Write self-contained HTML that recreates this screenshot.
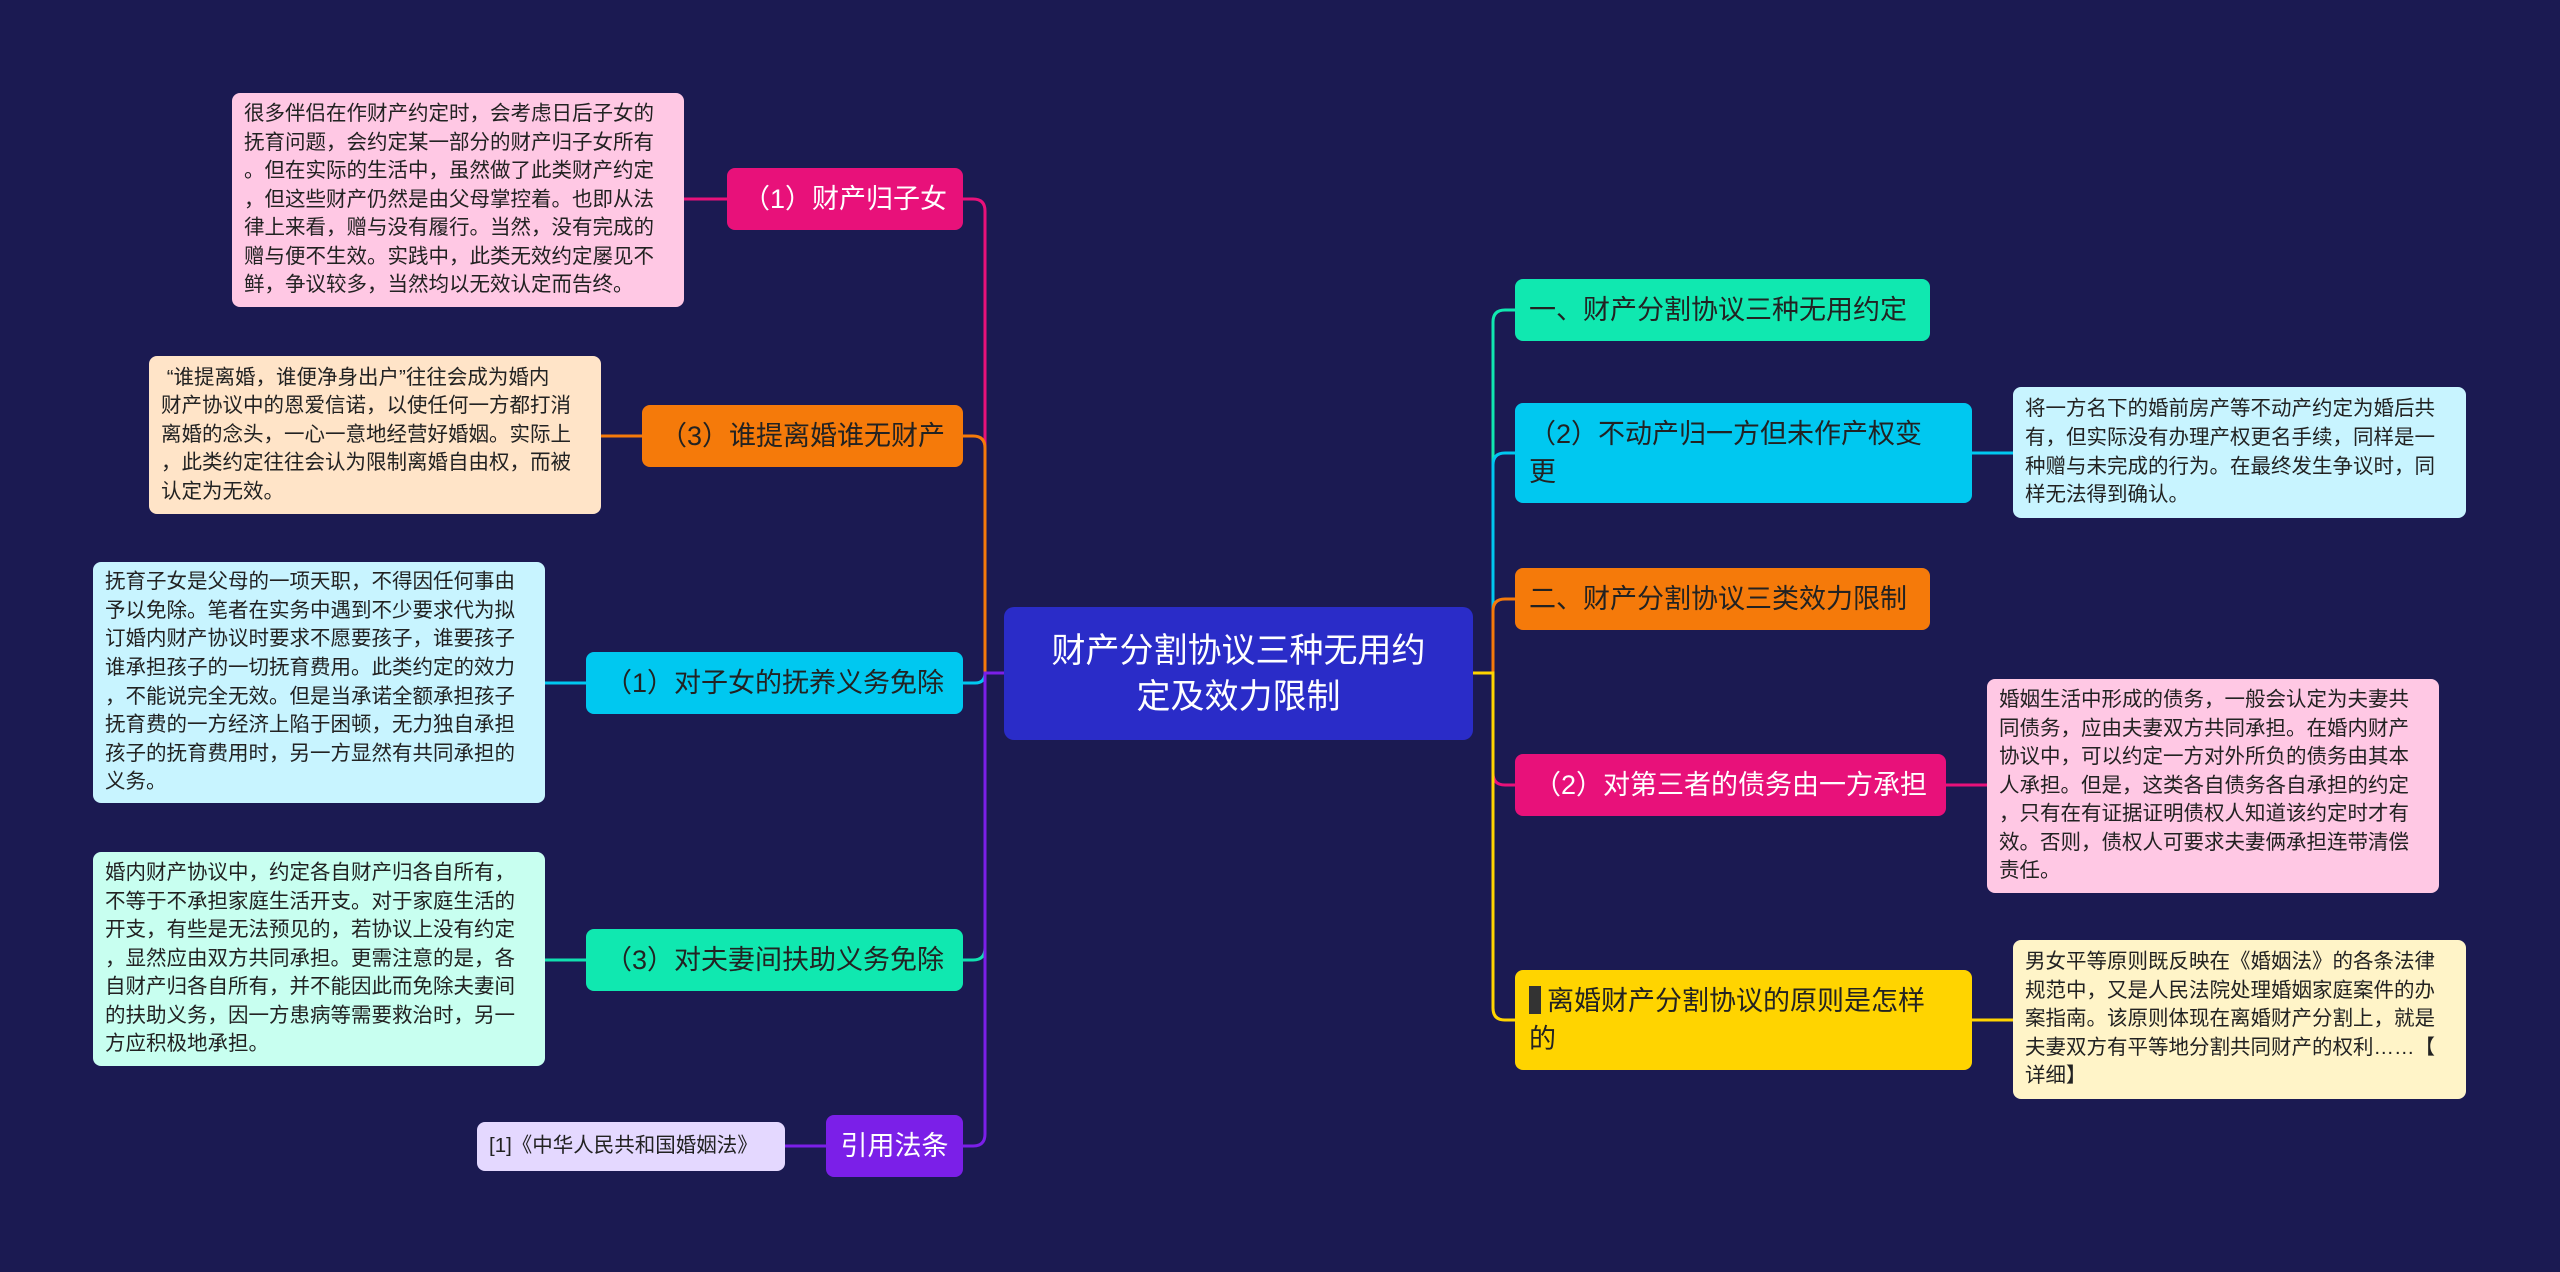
<!DOCTYPE html>
<html><head><meta charset="utf-8"><style>
body{margin:0;width:2560px;height:1272px;background:#1b1a52;position:relative;overflow:hidden;font-family:"Liberation Sans","Noto Sans CJK SC",sans-serif}
.n{position:absolute;box-sizing:border-box;border-radius:8px;font-size:27px;line-height:38px;display:flex;align-items:center;padding:0 14px;color:#222}
.d{position:absolute;box-sizing:border-box;border-radius:8px;font-size:20.5px;line-height:28.6px;padding:0 12px;color:#222;display:flex;align-items:center;white-space:nowrap}
svg{position:absolute;left:0;top:0}
</style></head><body>
<svg width="2560" height="1272" fill="none" stroke-width="3">
<path d="M1004 673 H985 V211 Q985 199 973 199 H963" stroke="#e8117a"/>
<path d="M1004 673 H985 V448 Q985 436 973 436 H963" stroke="#f57a0a"/>
<path d="M1004 673 H985 Q985 683 975 683 H963" stroke="#00c8f0"/>
<path d="M1004 673 H985 V948 Q985 960 973 960 H963" stroke="#10e0b0"/>
<path d="M1004 673 H985 V1134 Q985 1146 973 1146 H963" stroke="#7b1fe8"/>
<path d="M1473 673 H1493 V322 Q1493 310 1505 310 H1515" stroke="#10e8b0"/>
<path d="M1473 673 H1493 V465 Q1493 453 1505 453 H1515" stroke="#00c8f0"/>
<path d="M1473 673 H1493 V611 Q1493 599 1505 599 H1515" stroke="#f57a0a"/>
<path d="M1473 673 H1493 V773 Q1493 785 1505 785 H1515" stroke="#e8117a"/>
<path d="M1473 673 H1493 V1008 Q1493 1020 1505 1020 H1515" stroke="#ffd400"/>
<path d="M684 199 H727" stroke="#e8117a"/>
<path d="M601 436 H642" stroke="#f57a0a"/>
<path d="M545 683 H586" stroke="#00c8f0"/>
<path d="M545 960 H586" stroke="#10e0b0"/>
<path d="M785 1146 H826" stroke="#7b1fe8"/>
<path d="M1972 453 H2013" stroke="#00c8f0"/>
<path d="M1946 785 H1987" stroke="#e8117a"/>
<path d="M1972 1020 H2013" stroke="#ffd400"/>
</svg>
<div class="n" style="left:1004px;top:607px;width:469px;height:133px;background:#2a2cc8;color:#fff;font-size:34px;line-height:46px;justify-content:center;text-align:center;border-radius:10px">财产分割协议三种无用约<br>定及效力限制</div>

<div class="n" style="left:727px;top:168px;width:236px;height:62px;background:#e8117a;color:#fff;justify-content:center">（1）财产归子女</div>
<div class="n" style="left:642px;top:405px;width:321px;height:62px;background:#f57a0a;justify-content:center">（3）谁提离婚谁无财产</div>
<div class="n" style="left:586px;top:652px;width:377px;height:62px;background:#00c8f0;justify-content:center">（1）对子女的抚养义务免除</div>
<div class="n" style="left:586px;top:929px;width:377px;height:62px;background:#10e8b0;justify-content:center">（3）对夫妻间扶助义务免除</div>
<div class="n" style="left:826px;top:1115px;width:137px;height:62px;background:#7b1fe8;color:#fff;justify-content:center">引用法条</div>

<div class="d" style="left:232px;top:93px;width:452px;height:214px;background:#ffc8e4">很多伴侣在作财产约定时，会考虑日后子女的<br>抚育问题，会约定某一部分的财产归子女所有<br>。但在实际的生活中，虽然做了此类财产约定<br>，但这些财产仍然是由父母掌控着。也即从法<br>律上来看，赠与没有履行。当然，没有完成的<br>赠与便不生效。实践中，此类无效约定屡见不<br>鲜，争议较多，当然均以无效认定而告终。</div>
<div class="d" style="left:149px;top:356px;width:452px;height:158px;background:#ffe4c8">&nbsp;“谁提离婚，谁便净身出户”往往会成为婚内<br>财产协议中的恩爱信诺，以使任何一方都打消<br>离婚的念头，一心一意地经营好婚姻。实际上<br>，此类约定往往会认为限制离婚自由权，而被<br>认定为无效。</div>
<div class="d" style="left:93px;top:562px;width:452px;height:241px;background:#c8f4ff">抚育子女是父母的一项天职，不得因任何事由<br>予以免除。笔者在实务中遇到不少要求代为拟<br>订婚内财产协议时要求不愿要孩子，谁要孩子<br>谁承担孩子的一切抚育费用。此类约定的效力<br>，不能说完全无效。但是当承诺全额承担孩子<br>抚育费的一方经济上陷于困顿，无力独自承担<br>孩子的抚育费用时，另一方显然有共同承担的<br>义务。</div>
<div class="d" style="left:93px;top:852px;width:452px;height:214px;background:#c8fff0">婚内财产协议中，约定各自财产归各自所有，<br>不等于不承担家庭生活开支。对于家庭生活的<br>开支，有些是无法预见的，若协议上没有约定<br>，显然应由双方共同承担。更需注意的是，各<br>自财产归各自所有，并不能因此而免除夫妻间<br>的扶助义务，因一方患病等需要救治时，另一<br>方应积极地承担。</div>
<div class="d" style="left:477px;top:1122px;width:308px;height:49px;background:#e4d8ff">[1]《中华人民共和国婚姻法》</div>

<div class="n" style="left:1515px;top:279px;width:415px;height:62px;background:#10e8b0">一、财产分割协议三种无用约定</div>
<div class="n" style="left:1515px;top:403px;width:457px;height:100px;background:#00c8f0">（2）不动产归一方但未作产权变<br>更</div>
<div class="n" style="left:1515px;top:568px;width:415px;height:62px;background:#f57a0a">二、财产分割协议三类效力限制</div>
<div class="n" style="left:1515px;top:754px;width:431px;height:62px;background:#e8117a;color:#fff;justify-content:center">（2）对第三者的债务由一方承担</div>
<div class="n" style="left:1515px;top:970px;width:457px;height:100px;background:#ffd400"><span><span style="display:inline-block;width:12px;height:28px;background:#333;vertical-align:-4px;margin-right:6px"></span>离婚财产分割协议的原则是怎样<br>的</span></div>

<div class="d" style="left:2013px;top:387px;width:453px;height:131px;background:#c8f4ff">将一方名下的婚前房产等不动产约定为婚后共<br>有，但实际没有办理产权更名手续，同样是一<br>种赠与未完成的行为。在最终发生争议时，同<br>样无法得到确认。</div>
<div class="d" style="left:1987px;top:679px;width:452px;height:214px;background:#ffc8e4">婚姻生活中形成的债务，一般会认定为夫妻共<br>同债务，应由夫妻双方共同承担。在婚内财产<br>协议中，可以约定一方对外所负的债务由其本<br>人承担。但是，这类各自债务各自承担的约定<br>，只有在有证据证明债权人知道该约定时才有<br>效。否则，债权人可要求夫妻俩承担连带清偿<br>责任。</div>
<div class="d" style="left:2013px;top:940px;width:453px;height:159px;background:#fff4c8">男女平等原则既反映在《婚姻法》的各条法律<br>规范中，又是人民法院处理婚姻家庭案件的办<br>案指南。该原则体现在离婚财产分割上，就是<br>夫妻双方有平等地分割共同财产的权利……【<br>详细】</div>
</body></html>
